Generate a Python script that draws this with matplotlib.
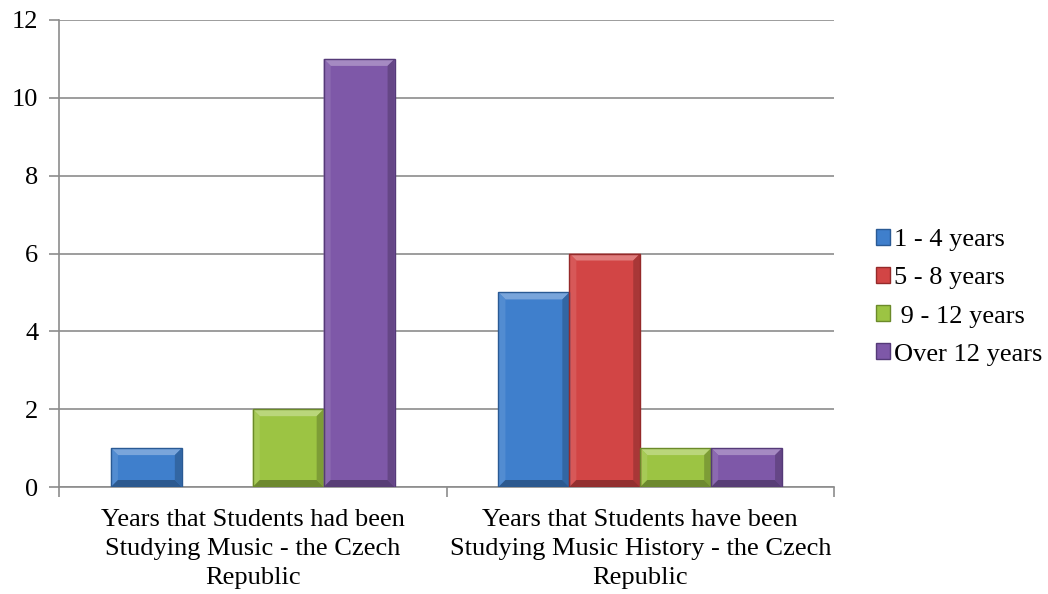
import numpy as np
import matplotlib.pyplot as plt
from matplotlib.patches import Polygon
from matplotlib.colors import to_rgb

categories = ["Years that Students had been\nStudying Music - the Czech\nRepublic",
              "Years that Students have been\nStudying Music History - the Czech\nRepublic"]
series = ["1 - 4 years", "5 - 8 years", " 9 - 12 years", "Over 12 years"]
values = [
    [1, 5],
    [0, 6],
    [2, 1],
    [11, 1],
]
colors = ["#3f7fcc", "#d24545", "#9cc443", "#7e58a8"]
edges = ["#2a5a94", "#952a2a", "#6b8a2a", "#553a78"]


def shade(c, f):
    r, g, b = to_rgb(c)
    if f > 0:
        return (r + (1 - r) * f, g + (1 - g) * f, b + (1 - b) * f)
    return (r * (1 + f), g * (1 + f), b * (1 + f))


plt.rcParams['font.family'] = ['Liberation Serif', 'DejaVu Serif']

fig = plt.figure(figsize=(10.48, 5.94), dpi=100)
ax = fig.add_axes([59 / 1048, 1 - 487 / 594, (834 - 59) / 1048, (487 - 20) / 594])

x = np.arange(len(categories))
width = 0.183
ax.set_xlim(-0.5, 1.5)
ax.set_ylim(0, 12)

# bevel depth in data units (about 7 px)
dx = 7 / 775 * 2
dy = 7 / 467 * 12

for i, (name, vals) in enumerate(zip(series, values)):
    offs = (i - 1.5) * width
    bars = ax.bar(x + offs, vals, width, color=colors[i], linewidth=0,
                  label=name, zorder=3)
    for b in bars:
        h = b.get_height()
        if h <= 0:
            continue
        x0, x1 = b.get_x(), b.get_x() + b.get_width()
        d = min(dy, h / 3)
        top = Polygon([(x0, h), (x1, h), (x1 - dx, h - d), (x0 + dx, h - d)],
                      closed=True, facecolor=shade(colors[i], 0.3),
                      edgecolor="none", zorder=4)
        left = Polygon([(x0, h), (x0 + dx, h - d), (x0 + dx, d), (x0, 0)],
                       closed=True, facecolor=shade(colors[i], 0.1),
                       edgecolor="none", zorder=4)
        right = Polygon([(x1, h), (x1 - dx, h - d), (x1 - dx, d), (x1, 0)],
                        closed=True, facecolor=shade(colors[i], -0.2),
                        edgecolor="none", zorder=4)
        bottom = Polygon([(x0, 0), (x1, 0), (x1 - dx, d), (x0 + dx, d)],
                         closed=True, facecolor=shade(colors[i], -0.3),
                         edgecolor="none", zorder=4)
        for p in (top, left, right, bottom):
            ax.add_patch(p)
        ax.bar(b.get_x() + b.get_width() / 2, h, b.get_width(), facecolor="none",
               edgecolor=edges[i], linewidth=1.0, zorder=5)

ax.set_yticks(range(0, 13, 2))
ax.yaxis.grid(True, color="#8c8c8c", linewidth=1.2, zorder=0)
ax.set_axisbelow(True)

ax.set_xticks(x)
ax.set_xticklabels(categories, fontsize=19, linespacing=1.4)
ax.set_xticks([-0.5, 0.5, 1.5], minor=True)
ax.tick_params(axis='x', which='major', length=0, pad=16)
ax.tick_params(axis='x', which='minor', length=7, color="#8c8c8c", width=1.2)
ax.tick_params(axis='y', length=7, color="#8c8c8c", width=1.2, labelsize=19, pad=8)

for s in ["top", "right"]:
    ax.spines[s].set_visible(False)
for s in ["left", "bottom"]:
    ax.spines[s].set_color("#8c8c8c")
    ax.spines[s].set_linewidth(1.2)

leg = ax.legend(loc="center left", bbox_to_anchor=(1.023, 0.406), frameon=False,
                fontsize=19, handlelength=0.55, handleheight=0.55,
                handletextpad=0.15, labelspacing=0.6)
for h, e in zip(leg.legend_handles, edges):
    h.set_edgecolor(e)
    h.set_linewidth(1.0)

fig.savefig("out.png", dpi=100)
